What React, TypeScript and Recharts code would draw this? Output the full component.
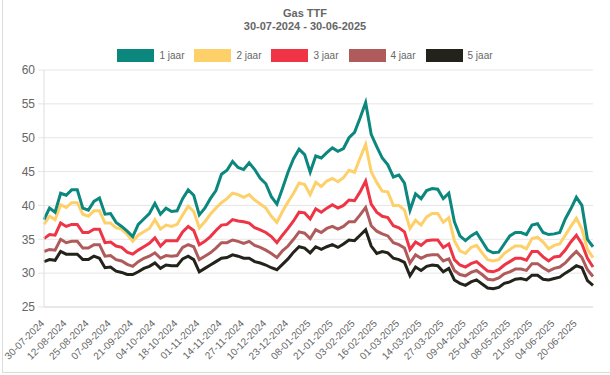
import React from 'react';
import { LineChart, Line, XAxis, YAxis, CartesianGrid } from 'recharts';

// tick labels shown on the x axis (every 13th trading day in the source)
const tickDates = [
  '30-07-2024', '12-08-2024', '25-08-2024', '07-09-2024', '21-09-2024',
  '04-10-2024', '18-10-2024', '01-11-2024', '14-11-2024', '27-11-2024',
  '10-12-2024', '23-12-2024', '08-01-2025', '21-01-2025', '03-02-2025',
  '16-02-2025', '01-03-2025', '14-03-2025', '27-03-2025', '09-04-2025',
  '25-04-2025', '08-05-2025', '21-05-2025', '04-06-2025', '20-06-2025',
];

const jaar1 = [
  37.9, 39.6, 39.0, 41.8, 41.5, 42.3, 42.3, 39.6, 39.3, 40.6,
  41.1, 38.7, 38.8, 37.5, 36.9, 36.2, 35.4, 37.2, 38.0, 38.8,
  40.3, 38.7, 39.6, 39.1, 39.2, 41.0, 42.3, 41.5, 38.6, 39.6,
  41.0, 42.2, 44.6, 45.2, 46.5, 45.6, 45.3, 46.3, 45.3, 44.0,
  43.2, 41.3, 40.2, 42.5, 44.9, 46.9, 48.3, 47.5, 44.9, 47.3,
  47.0, 47.8, 48.5, 48.0, 48.4, 50.0, 50.8, 52.9, 55.2, 50.5,
  48.7, 47.0, 46.0, 44.2, 44.5, 43.3, 39.3, 41.7, 41.0, 42.2,
  42.5, 42.4, 41.0, 41.8, 37.6, 35.5, 34.8, 35.5, 36.0, 34.7,
  33.4, 33.0, 33.1, 34.3, 35.5, 36.0, 36.0, 35.7, 37.1, 37.3,
  36.0, 35.7, 35.8, 36.0, 38.0, 39.5, 41.2, 40.0, 35.0, 33.9,
];

const jaar2 = [
  37.2, 38.4, 37.9, 40.1, 39.7, 40.4, 40.4, 38.7, 38.4, 39.2,
  39.2, 37.4, 37.4, 36.7, 36.5, 35.7, 34.7, 35.6, 36.1, 36.6,
  37.9, 36.5, 37.1, 36.9, 37.2, 38.6, 39.9, 39.1, 36.7, 37.6,
  38.7, 39.6, 40.4, 41.0, 41.8, 41.6, 41.2, 41.6, 40.8, 40.2,
  39.6, 38.4, 37.5, 39.1, 40.5, 41.8, 43.3, 43.1, 41.6, 43.4,
  42.8, 43.6, 44.0, 43.5, 44.1, 45.2, 44.9, 47.0, 49.0, 45.0,
  43.4, 42.1, 42.0, 40.0, 40.0, 39.3, 36.6, 37.8, 37.1, 38.3,
  38.8, 38.8, 37.5, 38.2, 34.8, 33.3, 32.9, 33.8, 34.1, 33.0,
  32.0, 31.8, 32.0, 32.9, 33.5, 34.0, 34.0, 33.6, 35.1, 35.3,
  34.6, 33.6, 34.1, 34.3, 35.6, 36.9, 38.1, 36.5, 33.5, 32.3,
];

const jaar3 = [
  35.1, 35.7, 35.6, 37.4, 36.9, 37.2, 37.2, 36.0, 36.0, 36.5,
  36.5, 34.5, 34.6, 34.0, 33.8, 33.1, 32.8, 33.4, 33.9, 34.4,
  35.2, 34.0, 34.8, 34.8, 34.8, 36.1, 36.9, 36.3, 34.2, 34.7,
  35.4, 36.3, 37.1, 37.2, 37.9, 37.7, 37.6, 37.4, 36.7, 36.4,
  36.0, 35.4, 34.5, 35.6, 36.6, 37.7, 39.0, 38.9, 38.0, 39.5,
  39.0, 39.6, 40.1, 39.6, 40.0, 40.8, 40.7, 42.0, 43.6, 40.2,
  39.0, 38.4, 38.2, 37.0, 36.7, 36.1, 33.5, 34.6, 34.1, 34.8,
  34.9, 34.9, 33.8, 34.3, 32.0, 31.2, 30.9, 31.4, 31.7, 31.0,
  30.3, 30.2, 30.5, 31.2, 31.7, 32.2, 32.2, 31.9, 33.2, 33.2,
  32.4, 31.8, 32.4, 32.5, 33.4, 34.6, 35.6, 34.3, 32.2, 30.9,
];

const jaar4 = [
  33.2, 33.5, 33.4, 35.0, 34.5, 34.7, 34.7, 33.7, 33.7, 34.2,
  34.2, 32.5, 32.6, 32.0, 31.8, 31.3, 31.0, 31.7, 32.2, 32.5,
  33.0, 32.2, 32.6, 32.5, 32.6, 33.8, 34.2, 33.9, 32.0, 32.5,
  33.0, 33.7, 34.5, 34.5, 34.9, 34.7, 34.4, 34.7, 34.1, 33.8,
  33.4, 32.9, 32.3, 33.3, 34.0, 35.0, 36.1, 35.9, 35.1, 36.4,
  36.0, 36.6, 36.9, 36.5, 36.9, 37.6, 37.6, 38.6, 39.7, 37.0,
  36.2, 35.8, 35.5, 34.5, 34.2, 33.7, 31.5, 32.7, 32.2, 32.6,
  32.7, 32.7, 31.8, 32.1, 30.4, 29.8, 29.6, 30.1, 30.4, 29.8,
  29.1, 29.0, 29.3, 29.9, 30.2, 30.6, 30.6, 30.4, 31.4, 31.4,
  30.8, 30.3, 30.7, 30.9, 31.5, 32.4, 33.2, 32.3, 30.5, 29.5,
];

const jaar5 = [
  31.7, 32.0, 31.9, 33.2, 32.8, 32.8, 32.8, 32.0, 32.0, 32.5,
  32.2, 30.8, 30.9, 30.3, 30.1, 29.8, 29.8, 30.2, 30.7, 31.0,
  31.5, 30.7, 31.2, 31.1, 31.1, 32.1, 32.5, 32.0, 30.2, 30.7,
  31.2, 31.7, 32.2, 32.3, 32.7, 32.5, 32.2, 32.2, 31.7, 31.5,
  31.2, 30.8, 30.5, 31.3, 32.1, 33.1, 33.9, 33.7, 33.0, 33.9,
  33.5, 33.9, 34.2, 33.8, 34.3, 34.9, 34.8, 35.6, 36.4, 34.0,
  32.9, 33.2, 33.0, 32.2, 32.0, 31.6, 29.6, 30.9, 30.4, 31.0,
  31.2, 31.1, 30.2, 30.7, 29.0, 28.5, 28.2, 28.7, 29.0, 28.4,
  27.8, 27.7, 27.9, 28.5, 28.7, 29.1, 29.2, 29.0, 29.7, 29.7,
  29.1, 29.0, 29.2, 29.4, 30.0, 30.5, 31.1, 30.8, 28.9, 28.2,
];

const series = [
  { key: 'jaar1', name: '1 jaar', color: '#0b877e', values: jaar1 },
  { key: 'jaar2', name: '2 jaar', color: '#fdd06a', values: jaar2 },
  { key: 'jaar3', name: '3 jaar', color: '#ee3445', values: jaar3 },
  { key: 'jaar4', name: '4 jaar', color: '#b05b5b', values: jaar4 },
  { key: 'jaar5', name: '5 jaar', color: '#23231b', values: jaar5 },
];

const yTicks = [25, 30, 35, 40, 45, 50, 55, 60];

// sample days within each tick interval
const parseDate = (s: string) => {
  const [d, m, y] = s.split('-').map(Number);
  return new Date(Date.UTC(y, m - 1, d));
};
const fmtDate = (dt: Date) =>
  `${String(dt.getUTCDate()).padStart(2, '0')}-${String(dt.getUTCMonth() + 1).padStart(2, '0')}-${dt.getUTCFullYear()}`;

const dates: string[] = [];
tickDates.forEach((t, i) => {
  const offsets = i < tickDates.length - 1 ? [0, 3, 7, 10] : [0, 3, 6, 10];
  offsets.forEach(o => {
    const dt = parseDate(t);
    dt.setUTCDate(dt.getUTCDate() + o);
    dates.push(o === 0 ? t : fmtDate(dt));
  });
});

const data = dates.map((date, i) => {
  const row: Record<string, any> = { date };
  series.forEach(s => { row[s.key] = s.values[i]; });
  return row;
});

const tickSet = new Set(tickDates);
const FONT = "'Liberation Sans', Arial, Helvetica, sans-serif";

const DateTick = (props: any) => {
  const { x, y, payload } = props;
  if (!tickSet.has(payload.value)) return <g />;
  const ax = x + 1;
  const ay = y + 9;
  return (
    <text
      x={ax}
      y={ay}
      textAnchor="end"
      transform={`rotate(-45, ${ax}, ${ay})`}
      fontSize={10}
      fontFamily={FONT}
      fill="#666"
    >
      {payload.value}
    </text>
  );
};

export default function App() {
  return (
    <div style={{ position: 'absolute', left: 0, top: 0, width: 610, height: 375, background: '#fff', fontFamily: FONT }}>
      <div style={{ position: 'absolute', left: 2, top: 0, width: 608, height: 372, borderLeft: '1px solid #dcdcdc', borderBottom: '1px solid #dcdcdc' }} />
      <div style={{ position: 'absolute', left: 0, top: 7, width: 610, textAlign: 'center', fontSize: 11, lineHeight: '13px', fontWeight: 'bold', color: '#666' }}>
        Gas TTF
      </div>
      <div style={{ position: 'absolute', left: 0, top: 20, width: 610, textAlign: 'center', fontSize: 11, lineHeight: '13px', fontWeight: 'bold', color: '#666' }}>
        30-07-2024 - 30-06-2025
      </div>
      <div style={{ position: 'absolute', left: 0, top: 49, width: 610, display: 'flex', justifyContent: 'center', gap: 10 }}>
        {series.map(s => (
          <div key={s.key} style={{ display: 'flex', alignItems: 'center' }}>
            <div style={{ width: 37, height: 13, background: s.color, marginRight: 5 }} />
            <span style={{ fontSize: 10, lineHeight: '13px', color: '#666' }}>{s.name}</span>
          </div>
        ))}
      </div>
      <LineChart
        width={610}
        height={375}
        data={data}
        margin={{ top: 70, right: 17, bottom: 8, left: 4 }}
        style={{ position: 'absolute', left: 0, top: 0 }}
      >
        <CartesianGrid vertical={false} stroke="#e6e6e6" />
        <XAxis
          dataKey="date"
          type="category"
          interval={0}
          height={60}
          tickLine={false}
          axisLine={{ stroke: '#dedede' }}
          tick={<DateTick />}
        />
        <YAxis
          type="number"
          domain={[25, 60]}
          ticks={yTicks}
          width={40}
          tickMargin={3}
          tickLine={{ stroke: '#e6e6e6' }}
          axisLine={{ stroke: '#dedede' }}
          tick={{ fontSize: 12, fill: '#666', fontFamily: FONT }}
        />
        {[...series].reverse().map(s => (
          <Line
            key={s.key}
            type="linear"
            dataKey={s.key}
            name={s.name}
            stroke={s.color}
            strokeWidth={3}
            dot={false}
            isAnimationActive={false}
          />
        ))}
      </LineChart>
    </div>
  );
}
